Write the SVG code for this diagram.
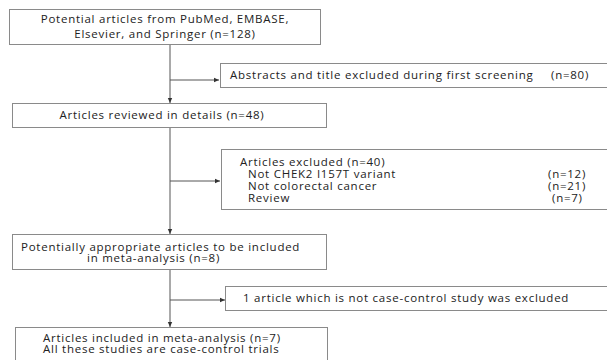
<svg xmlns="http://www.w3.org/2000/svg" width="607" height="360" viewBox="0 0 607 360">
<defs>
<style>
.box{fill:#fff;stroke:#8a8a8a;stroke-width:1}
.ln{fill:none;stroke:#555;stroke-width:1}
text{font-family:"Open Sans","Liberation Sans",sans-serif;font-size:11.5px;letter-spacing:0.75px;fill:#222}
.c{text-anchor:middle}
</style>
<marker id="ah" markerWidth="6" markerHeight="6" refX="5" refY="3" orient="auto" markerUnits="userSpaceOnUse">
<path d="M0,0.8 L5,3 L0,5.2 Z" fill="#333"/>
</marker>
</defs>
<rect width="607" height="360" fill="#fff"/>
<g id="connectors">
<path class="ln" d="M170,44 V103" marker-end="url(#ah)"/>
<path class="ln" d="M170,80 H219" marker-end="url(#ah)"/>
<path class="ln" d="M170,127 V234" marker-end="url(#ah)"/>
<path class="ln" d="M170,181 H220" marker-end="url(#ah)"/>
<path class="ln" d="M170,269 V327" marker-end="url(#ah)"/>
<path class="ln" d="M170,300 H225" marker-end="url(#ah)"/>
</g>
<g id="n1">
<rect class="box" x="9.5" y="9.5" width="311" height="35"/>
<text class="c" x="165" y="23">Potential articles from PubMed, EMBASE,</text>
<text class="c" x="165" y="38">Elsevier, and Springer (n=128)</text>
</g>
<g id="n2">
<rect class="box" x="220.5" y="63.5" width="390" height="24"/>
<text x="230" y="79">Abstracts and title excluded during first screening <tspan x="551">(n=80)</tspan></text>
</g>
<g id="n3">
<rect class="box" x="12.5" y="103.5" width="314" height="24"/>
<text class="c" x="162" y="119">Articles reviewed in details (n=48)</text>
</g>
<g id="n4">
<rect class="box" x="221.5" y="149.5" width="390" height="60"/>
<text x="240" y="166">Articles excluded (n=40)</text>
<text x="248" y="178">Not CHEK2 I157T variant</text>
<text x="248" y="190">Not colorectal cancer</text>
<text x="248" y="202">Review</text>
<text x="548" y="178">(n=12)</text>
<text x="548" y="190">(n=21)</text>
<text x="552" y="202">(n=7)</text>
</g>
<g id="n5">
<rect class="box" x="12.5" y="234.5" width="314" height="35"/>
<text x="21" y="251">Potentially appropriate articles to be included</text>
<text x="87" y="262">in meta-analysis   (n=8)</text>
</g>
<g id="n6">
<rect class="box" x="225.5" y="286.5" width="390" height="24"/>
<text x="243" y="302">1 article which is not case-control study was excluded</text>
</g>
<g id="n7">
<rect class="box" x="15.5" y="327.5" width="312" height="40"/>
<text x="43" y="342">Articles included in meta-analysis (n=7)</text>
<text x="43" y="353">All these studies are case-control trials</text>
</g>
</svg>
